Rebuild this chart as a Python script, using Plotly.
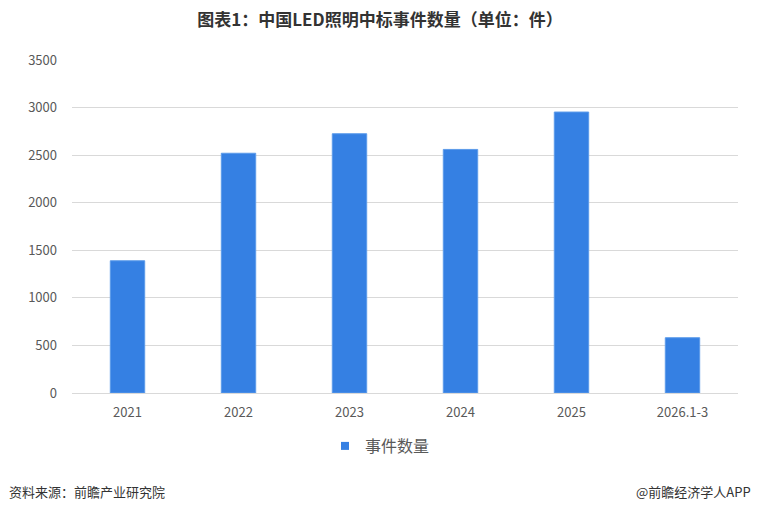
import plotly.graph_objects as go

categories = ["2021", "2022", "2023", "2024", "2025", "2026.1-3"]
counts = [1390, 2520, 2725, 2560, 2953, 581]
series_name = "事件数量"
title_text = "图表1：中国LED照明中标事件数量（单位：件）"
source_text = "资料来源：前瞻产业研究院"
credit_text = "@前瞻经济学人APP"
y_ticks = [0, 500, 1000, 1500, 2000, 2500, 3000, 3500]

W, H = 760, 511
L, R, T, B = 72, 22, 60, 118
plot_h = H - T - B
plot_w = W - L - R

def ypaper(py):
    return (H - B - py) / plot_h

def xpaper(px):
    return (px - L) / plot_w

bar_color = "#3580E3"

fig = go.Figure()
fig.add_trace(go.Bar(
    x=categories, y=counts, name=series_name,
    marker=dict(color=bar_color, line=dict(color="#5C9BEA", width=1)),
    showlegend=False,
))
# legend-only entry with small square swatch
fig.add_trace(go.Scatter(
    x=[None], y=[None], mode="markers", name=series_name,
    marker=dict(symbol="square", size=8, color=bar_color),
    showlegend=True,
))

font_fam = "Noto Sans CJK SC, Noto Sans, sans-serif"
fig.update_layout(
    width=W, height=H,
    margin=dict(l=L, r=R, t=T, b=B),
    paper_bgcolor="white", plot_bgcolor="white",
    bargap=0.69,
    font=dict(family=font_fam, color="#595959"),
    title=dict(text="<b>" + title_text + "</b>", x=0.5, xanchor="center",
               y=1 - 20 / H, yanchor="middle",
               font=dict(size=17, color="#333333", family=font_fam)),
    xaxis=dict(showgrid=False, showline=False, ticks="", zeroline=False,
               tickfont=dict(size=13, color="#595959"), ticklabelstandoff=10),
    yaxis=dict(range=[0, 3500], tickvals=y_ticks, showgrid=True, gridcolor="#d9d9d9",
               gridwidth=1, zeroline=True, zerolinecolor="#d9d9d9", zerolinewidth=1,
               showline=False, ticks="", tickfont=dict(size=13, color="#595959"),
               ticklabelstandoff=14),
    legend=dict(orientation="h", x=xpaper(380), xanchor="center", y=ypaper(446), yanchor="middle",
                font=dict(size=16, color="#595959"), itemwidth=30, tracegroupgap=0),
    annotations=[
        dict(text=source_text, xref="paper", yref="paper", x=xpaper(7), xanchor="left",
             y=ypaper(491), yanchor="middle", showarrow=False,
             font=dict(size=13, color="#333333")),
        dict(text=credit_text, xref="paper", yref="paper", x=xpaper(753), xanchor="right",
             y=ypaper(491), yanchor="middle", showarrow=False,
             font=dict(size=13, color="#333333")),
    ],
)

fig.write_html("out.html")
